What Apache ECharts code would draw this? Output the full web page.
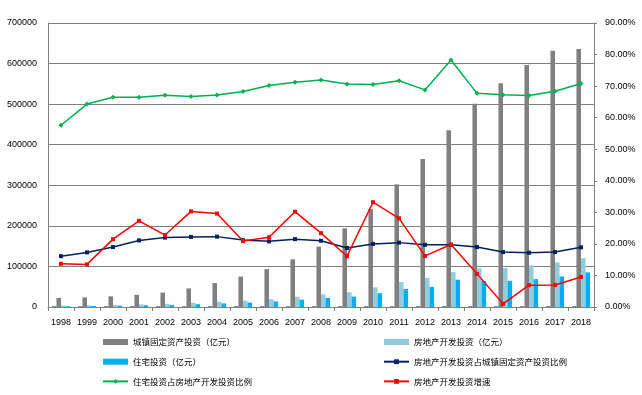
<!DOCTYPE html>
<html>
<head>
<meta charset="utf-8">
<script src="https://cdn.jsdelivr.net/npm/echarts@6/dist/echarts.min.js"></script>
<style>html,body{margin:0;padding:0;background:#fff}#c{width:642px;height:395px}</style>
</head>
<body>
<div id="c"></div>
<script>
var years = ['1998','1999','2000','2001','2002','2003','2004','2005','2006','2007','2008','2009','2010','2011','2012','2013','2014','2015','2016','2017','2018'];
var yearBars = [1998,1999,2000,2001,2002,2003,2004,2005,2006,2007,2008,2009,2010,2011,2012,2013,2014,2015,2016,2017,2018];
var fixedInvest = [22491,23732,26222,30001,35489,45812,59028,75095,93369,117464,148738,193920,241431,302396,364835,435747,501265,551590,596501,631684,635636];
var reInvest = [3614,4103,4984,6344,7791,10154,13158,15909,19423,25289,31203,36242,48259,61797,71804,86013,95036,95979,102581,109799,120264];
var resInvest = [2082,2638,3312,4217,5228,6777,8837,10861,13638,18005,22441,25614,34026,44320,49374,67300,64352,64595,68704,75148,85192];
var reShare = [16.1,17.3,19.0,21.1,22.0,22.2,22.3,21.2,20.8,21.5,21.0,18.7,20.0,20.4,19.7,19.7,19.0,17.4,17.2,17.4,18.9];
var resShare = [57.6,64.3,66.5,66.5,67.1,66.7,67.2,68.3,70.2,71.2,71.9,70.7,70.5,71.7,68.8,78.3,67.7,67.3,67.0,68.4,70.8];
var reGrowth = [13.7,13.5,21.5,27.3,22.8,30.3,29.6,20.9,22.1,30.2,23.4,16.1,33.2,28.1,16.2,19.8,10.5,1.0,6.9,7.0,9.5];
var leftTicks = [0,100000,200000,300000,400000,500000,600000,700000];
var rightTicks = [0,10,20,30,40,50,60,70,80,90];

var names = ['城镇固定资产投资（亿元）','房地产开发投资（亿元）','住宅投资（亿元）','房地产开发投资占城镇固定资产投资比例','住宅投资占房地产开发投资比例','房地产开发投资增速'];
var axisFont = {fontFamily:'Liberation Sans', fontSize:9, color:'#000'};
var legendText = {fontFamily:'Noto Sans CJK SC', fontSize:8.5, color:'#000', lineHeight:10};

var chart = echarts.init(document.getElementById('c'), null, {renderer:'canvas'});
chart.setOption({
  animation:false,
  backgroundColor:'#fff',
  grid:{left:48,right:48,top:23,bottom:88,containLabel:false},
  legend:[
    {data:[{name:names[0],icon:'rect'},{name:names[2],icon:'rect'},names[4]], orient:'vertical', left:97, top:332, itemWidth:25, itemHeight:6, itemGap:9.7, textStyle:legendText},
    {data:[{name:names[1],icon:'rect'},names[3],names[5]], orient:'vertical', left:378, top:332, itemWidth:25, itemHeight:6, itemGap:9.7, textStyle:legendText}
  ],
  xAxis:{
    type:'category', data:years, boundaryGap:true,
    axisLine:{lineStyle:{color:'#808080',width:1}},
    axisTick:{show:true,length:4,interval:0,lineStyle:{color:'#808080'}},
    axisLabel:Object.assign({margin:11,interval:0},axisFont)
  },
  yAxis:[
    {type:'value', min:leftTicks[0], max:leftTicks[leftTicks.length-1], interval:100000,
     axisLine:{show:true,lineStyle:{color:'#808080'}}, axisTick:{show:false},
     splitLine:{show:true,lineStyle:{color:'#808080',width:1}},
     axisLabel:Object.assign({margin:11,formatter:function(v){return String(v);}},axisFont)},
    {type:'value', min:rightTicks[0], max:rightTicks[rightTicks.length-1], interval:10,
     axisLine:{show:true,lineStyle:{color:'#808080'}}, axisTick:{show:true,length:3,lineStyle:{color:'#808080'}},
     splitLine:{show:false},
     axisLabel:Object.assign({margin:11,formatter:function(v){return v.toFixed(2)+'%';}},axisFont)}
  ],
  series:[
    {name:'年份', type:'bar', data:yearBars, barGap:'0%', barCategoryGap:'30%', itemStyle:{color:'#4F81BD'}},
    {name:names[0], type:'bar', data:fixedInvest, barGap:'0%', barCategoryGap:'30%', itemStyle:{color:'#808080'}},
    {name:names[1], type:'bar', data:reInvest, barGap:'0%', barCategoryGap:'30%', itemStyle:{color:'#93CDDD'}},
    {name:names[2], type:'bar', data:resInvest, barGap:'0%', barCategoryGap:'30%', itemStyle:{color:'#00B0F0'}},
    {name:names[3], type:'line', yAxisIndex:1, data:reShare, symbol:'rect', symbolSize:4,
     lineStyle:{color:'#002060',width:1.5}, itemStyle:{color:'#002060'}},
    {name:names[4], type:'line', yAxisIndex:1, data:resShare, symbol:'diamond', symbolSize:5,
     lineStyle:{color:'#00B050',width:1.5}, itemStyle:{color:'#00B050'}},
    {name:names[5], type:'line', yAxisIndex:1, data:reGrowth, symbol:'rect', symbolSize:4,
     lineStyle:{color:'#FF0000',width:1.5}, itemStyle:{color:'#FF0000'}}
  ]
});
</script>
</body>
</html>
